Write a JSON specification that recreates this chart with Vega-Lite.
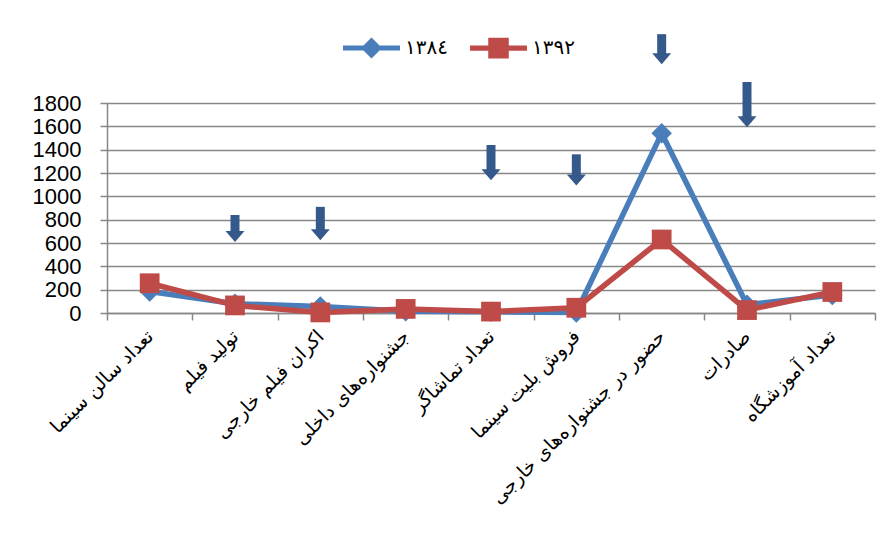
{
  "$schema": "https://vega.github.io/schema/vega-lite/v6.json",
  "width": 768,
  "height": 210,
  "autosize": {"type": "none"},
  "padding": {"left": 107, "top": 103, "right": 12, "bottom": 242},
  "background": "white",
  "config": {
    "view": {"stroke": null},
    "font": "DejaVu Sans",
    "axisY": {
      "title": null,
      "labelOverlap": false,
      "labelFontSize": 22,
      "labelFont": "Liberation Sans",
      "labelColor": "black",
      "labelPadding": 19,
      "tickSize": 7,
      "tickColor": "#878787",
      "tickWidth": 1.5,
      "domainColor": "#878787",
      "domainWidth": 1.5,
      "grid": true,
      "gridColor": "#878787",
      "gridWidth": 1.5
    },
    "axisX": {
      "title": null,
      "tickBand": "extent",
      "labelAngle": -45,
      "labelAlign": "right",
      "labelBaseline": "middle",
      "labelFontSize": 19,
      "labelFont": "DejaVu Sans",
      "labelColor": "black",
      "labelPadding": 13,
      "labelLimit": 400,
      "labelOverlap": false,
      "domainColor": "#878787",
      "domainWidth": 1.5,
      "tickColor": "#878787",
      "tickWidth": 1.5,
      "tickSize": 7,
      "grid": false
    }
  },
  "datasets": {
    "series": [
      {"category": "تعداد سالن سینما", "year": "١٣٨٤", "value": 185},
      {"category": "تولید فیلم", "year": "١٣٨٤", "value": 80},
      {"category": "اکران فیلم خارجی", "year": "١٣٨٤", "value": 55},
      {"category": "جشنواره‌های داخلی", "year": "١٣٨٤", "value": 15},
      {"category": "تعداد تماشاگر", "year": "١٣٨٤", "value": 10},
      {"category": "فروش بلیت سینما", "year": "١٣٨٤", "value": 5},
      {"category": "حضور در جشنواره‌های خارجی", "year": "١٣٨٤", "value": 1540},
      {"category": "صادرات", "year": "١٣٨٤", "value": 70},
      {"category": "تعداد آموزشگاه", "year": "١٣٨٤", "value": 155},
      {"category": "تعداد سالن سینما", "year": "١٣٩٢", "value": 255},
      {"category": "تولید فیلم", "year": "١٣٩٢", "value": 65},
      {"category": "اکران فیلم خارجی", "year": "١٣٩٢", "value": 5},
      {"category": "جشنواره‌های داخلی", "year": "١٣٩٢", "value": 35},
      {"category": "تعداد تماشاگر", "year": "١٣٩٢", "value": 12},
      {"category": "فروش بلیت سینما", "year": "١٣٩٢", "value": 45},
      {"category": "حضور در جشنواره‌های خارجی", "year": "١٣٩٢", "value": 630},
      {"category": "صادرات", "year": "١٣٩٢", "value": 25},
      {"category": "تعداد آموزشگاه", "year": "١٣٩٢", "value": 180}
    ],
    "arrows": [
      {"category": "تولید فیلم", "top": 840, "head": 655},
      {"category": "اکران فیلم خارجی", "top": 910, "head": 670},
      {"category": "تعداد تماشاگر", "top": 1440, "head": 1185},
      {"category": "فروش بلیت سینما", "top": 1360, "head": 1140},
      {"category": "حضور در جشنواره‌های خارجی", "top": 2390, "head": 2180},
      {"category": "صادرات", "top": 1980, "head": 1640}
    ]
  },
  "layer": [
    {
      "data": {"name": "series"},
      "encoding": {
        "x": {
          "field": "category",
          "type": "nominal",
          "sort": null,
          "scale": {
            "type": "band",
            "domain": ["تعداد سالن سینما", "تولید فیلم", "اکران فیلم خارجی", "جشنواره‌های داخلی", "تعداد تماشاگر", "فروش بلیت سینما", "حضور در جشنواره‌های خارجی", "صادرات", "تعداد آموزشگاه"],
            "paddingInner": 0,
            "paddingOuter": 0
          }
        },
        "y": {
          "field": "value",
          "type": "quantitative",
          "scale": {"domain": [0, 1800], "nice": false},
          "axis": {"values": [0, 200, 400, 600, 800, 1000, 1200, 1400, 1600, 1800], "format": "d"}
        },
        "color": {
          "field": "year",
          "type": "nominal",
          "sort": null,
          "scale": {"domain": ["١٣٨٤", "١٣٩٢"], "range": ["#4A7EBB", "#BE4B48"]},
          "legend": {
            "title": null,
            "orient": "none",
            "legendX": 236,
            "legendY": -84,
            "direction": "horizontal",
            "columns": 2,
            "padding": 0,
            "symbolSize": 3249,
            "symbolStrokeWidth": 0,
            "labelFontSize": 20,
            "labelFont": "DejaVu Sans",
            "labelColor": "black",
            "labelOffset": 5,
            "columnPadding": 22,
            "encode": {
              "symbols": {
                "update": {
                  "shape": {"signal": "datum.value === '١٣٨٤' ? 'M-1,-0.09H1V0.09H-1Z M0,-0.37L0.37,0L0,0.37L-0.37,0Z' : 'M-1,-0.09H1V0.09H-1Z M-0.36,-0.36H0.36V0.36H-0.36Z'"},
                  "fill": {"scale": "color", "field": "value"},
                  "fillOpacity": {"value": 1},
                  "opacity": {"value": 1},
                  "strokeWidth": {"value": 0}
                }
              }
            }
          }
        }
      },
      "layer": [
        {"mark": {"type": "line", "strokeWidth": 5.5, "strokeJoin": "round"}},
        {
          "transform": [{"filter": "datum.year === '١٣٨٤'"}],
          "mark": {"type": "point", "shape": "diamond", "filled": true, "opacity": 1, "size": 420}
        },
        {
          "transform": [{"filter": "datum.year === '١٣٩٢'"}],
          "mark": {"type": "point", "shape": "square", "filled": true, "opacity": 1, "size": 390}
        }
      ]
    },
    {
      "data": {"name": "arrows"},
      "encoding": {
        "x": {"field": "category", "type": "nominal", "sort": null}
      },
      "layer": [
        {
          "mark": {"type": "rule", "strokeWidth": 9, "color": "#35598A", "strokeCap": "butt"},
          "encoding": {
            "y": {"field": "top", "type": "quantitative", "axis": {"values": [0, 200, 400, 600, 800, 1000, 1200, 1400, 1600, 1800], "format": "d"}},
            "y2": {"field": "head"}
          }
        },
        {
          "mark": {"type": "point", "shape": "M-1,-0.58L1,-0.58L0,0.58Z", "size": 361, "filled": true, "opacity": 1, "color": "#35598A"},
          "encoding": {
            "y": {"field": "head", "type": "quantitative", "axis": {"values": [0, 200, 400, 600, 800, 1000, 1200, 1400, 1600, 1800], "format": "d"}}
          }
        }
      ]
    }
  ]
}
